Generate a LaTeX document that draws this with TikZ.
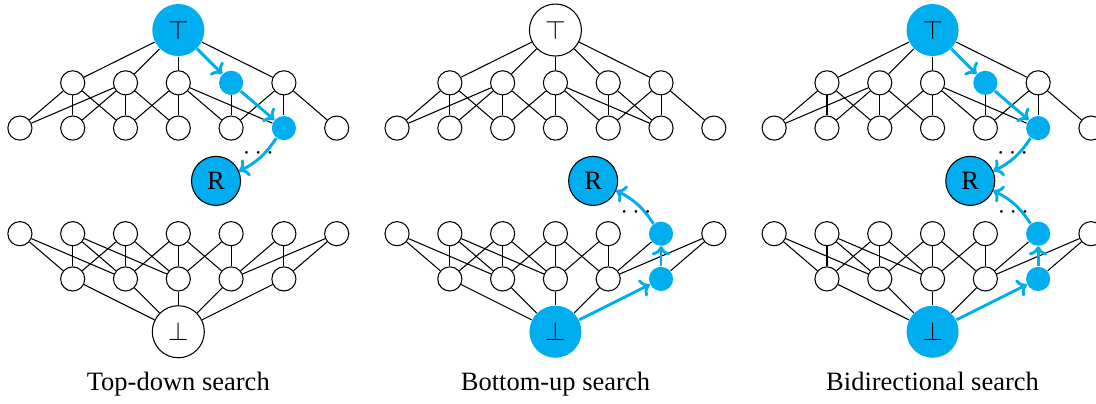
\documentclass[tikz,border=0pt]{standalone}
\usepackage{fontspec}
\setmainfont{Liberation Serif}
\usepackage{tikz}
\usepackage{xcolor}
\usetikzlibrary{calc,arrows.meta}

\definecolor{searchblue}{RGB}{0,174,239}

\begin{document}
\begin{tikzpicture}[
  elem/.style = {shape=circle, draw, inner sep=0pt, minimum size=0.32cm},
  hit/.style = {shape=circle, fill=searchblue, inner sep=0pt, minimum size=0.32cm},
  bound/.style = {shape=circle, draw, inner sep=0pt, minimum size=0.69cm},
  boundhit/.style = {shape=circle, fill=searchblue, inner sep=0pt, minimum size=0.69cm},
  res/.style = {shape=circle, draw, fill=searchblue, inner sep=0pt, minimum size=0.65cm},
  link/.style = {thin},
  walk/.style = {-{To[length=3.4pt,width=7pt]}, searchblue, line width=1.1pt}]
  \useasboundingbox (-2.364,0.398) rectangle (12.167,-4.945);

  \foreach \p/\dx/\down/\up/\ts/\tp/\tw/\bs/\bp/\bw/\txt in {
      l/0/1/0/boundhit/hit/walk/bound/elem/link/Top-down search,
      m/5/0/1/bound/elem/link/boundhit/hit/walk/Bottom-up search,
      r/10/1/1/boundhit/hit/walk/boundhit/hit/walk/Bidirectional search} {
  \begin{scope}[xshift=\dx cm]
    % upper lattice
    \node[\ts] (\p-top) at (0,0) {$\top$};
    \foreach \i in {1,2,3,5}
      \node[elem] (\p-a\i) at ({(\i-3)*0.7},-0.7) {};
    \node[\tp] (\p-a4) at (0.7,-0.7) {};
    \foreach \i in {1,2,3,4,5,7}
      \node[elem] (\p-b\i) at ({(\i-4)*0.7},-1.3) {};
    \node[\tp] (\p-b6) at (1.4,-1.3) {};

    % result
    \node[res] (\p-R) at (0.5,-2.0) {R};

    % lower lattice
    \foreach \i in {1,2,3,4,5,7}
      \node[elem] (\p-c\i) at ({(\i-4)*0.7},-2.7) {};
    \node[\bp] (\p-c6) at (1.4,-2.7) {};
    \foreach \i in {1,2,3,4}
      \node[elem] (\p-d\i) at ({(\i-3)*0.7},-3.3) {};
    \node[\bp] (\p-d5) at (1.4,-3.3) {};
    \node[\bs] (\p-bot) at (0,-4.0) {$\bot$};

    \foreach \s/\t in {top/a1, top/a2, top/a3, top/a5,
        a1/b1, a1/b2, a1/b3, a2/b1, a2/b2, a2/b3, a2/b4,
        a3/b3, a3/b4, a3/b5, a3/b6, a4/b5, a5/b5, a5/b6, a5/b7,
        c1/d1, c1/d2, c2/d1, c2/d2, c2/d3, c3/d1, c3/d2, c3/d3,
        c4/d2, c4/d3, c4/d4, c5/d3, c5/d4, c6/d4, c7/d4, c7/d5,
        d1/bot, d2/bot, d3/bot, d4/bot}
      \draw[link] (\p-\s) -- (\p-\t);

    \draw[\tw] (\p-top) -- (\p-a4);
    \draw[\tw] (\p-a4) -- (\p-b6);
    \draw[\bw] (\p-bot) -- (\p-d5);
    \draw[\bw] (\p-d5) -- (\p-c6);

    \ifnum\down=1
      \draw[walk] (\p-b6) to[bend left=15] (\p-R);
      \node[inner sep=0pt] (\p-tdots) at ($(\p-R)+(0.56,0.36)$) {$\cdots$};
    \fi
    \ifnum\up=1
      \draw[walk] (\p-c6) to[bend right=15] (\p-R);
      \node[inner sep=0pt] (\p-bdots) at ($(\p-R)+(0.57,-0.42)$) {$\cdots$};
    \fi

    \node[anchor=base] (\p-cap) at (0,-4.78) {\txt};
  \end{scope}
  }
\end{tikzpicture}
\end{document}
